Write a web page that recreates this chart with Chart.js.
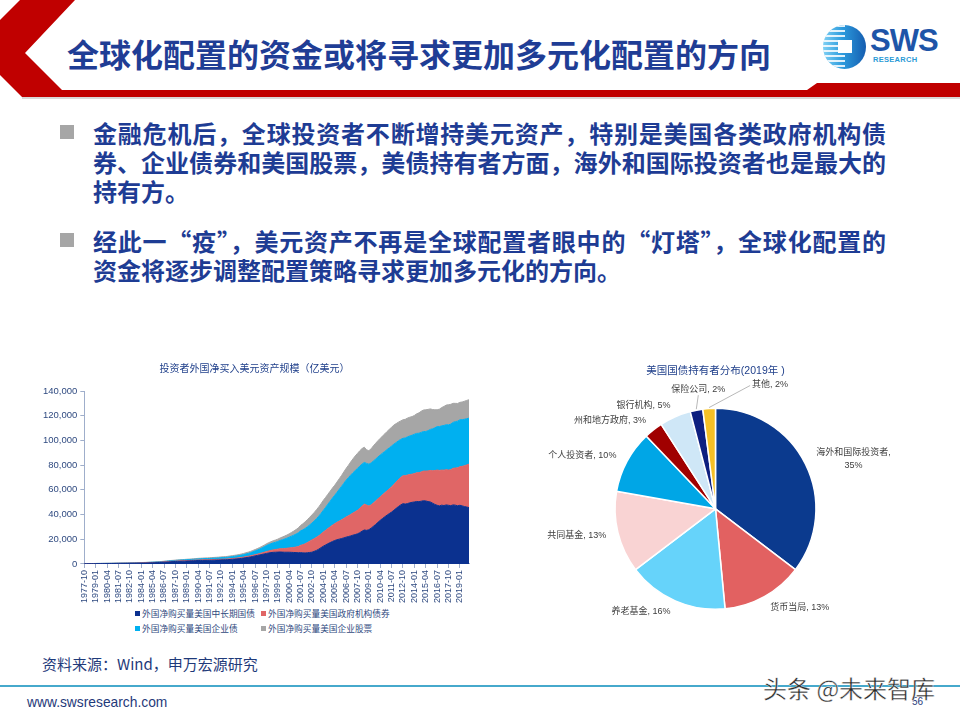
<!DOCTYPE html>
<html>
<head>
<meta charset="utf-8">
<script src="https://cdn.jsdelivr.net/npm/chart.js@4.4.1/dist/chart.umd.min.js"></script>
<style>
  body { margin: 0; width: 960px; height: 720px; position: relative; overflow: hidden; background: #fff;
         font-family: "Noto Sans CJK SC", "Liberation Sans", sans-serif; }
  .abs { position: absolute; }
  #title { left: 67px; top: 33px; font-size: 32px; line-height: 40px; font-weight: bold; color: #1F3D95; white-space: nowrap; }
  .bullet { position: absolute; left: 60px; width: 14px; height: 14px; background: #A6A6A6; }
  .para { position: absolute; left: 93px; width: 793px; color: #1E3C94; font-size: 24px; font-weight: bold; }
  .para div { height: 29px; line-height: 29px; white-space: nowrap; }
  .para .j { text-align: justify; text-align-last: justify; }
  #logo-ring { left: 823px; top: 25px; width: 43px; height: 44px; border-radius: 50%; overflow: hidden;
               background: linear-gradient(90deg, #7FD0F4 0%, #2C9BDD 45%, #155DB0 100%); }
  #logo-ring .stripes { position: absolute; left: 0; top: 0; width: 22px; height: 44px;
               background: repeating-linear-gradient(to bottom, rgba(255,255,255,0.85) 0 2px, transparent 2px 5px); }
  #logo-ring .sq { position: absolute; left: 15px; top: 15px; width: 14px; height: 13px; background: #fff; }
  #sws { left: 870px; top: 24px; font-family: "Liberation Sans", sans-serif; font-weight: bold; font-size: 31px; line-height: 34px; color: #1E55A8; letter-spacing: -1px; }
  #res { left: 873px; top: 55px; font-family: "Liberation Sans", sans-serif; font-weight: bold; font-size: 7.5px; color: #2A9AD6; letter-spacing: 0.3px; }
  #areaBox { left: 30px; top: 355px; width: 450px; height: 250px; }
  #pieBox { left: 520px; top: 355px; width: 420px; height: 285px; }
  #legend { left: 135px; top: 607px; display: grid; grid-template-columns: 126px 130px; row-gap: 2px;
            font-size: 8.7px; color: #2F4A80; white-space: nowrap; }
  #legend span.sw { display: inline-block; width: 5px; height: 5px; margin-right: 2px; vertical-align: 1px; }
  #src { left: 42px; top: 653px; font-size: 15px; color: #1F3A7A; white-space: nowrap; }
  #rule { left: 0; top: 685px; width: 960px; height: 2px; background: #46A9CC; }
  #url { left: 27px; top: 693px; font-family: "Liberation Sans", sans-serif; font-size: 15px; color: #1F3A7A; transform: scaleX(0.92); transform-origin: left; }
  #page { left: 912px; top: 696px; font-family: "Liberation Sans", sans-serif; font-size: 10px; color: #1F3A7A; }
  #wm { left: 763px; top: 670px; font-size: 24px; color: #2a2a2a; white-space: nowrap;
        -webkit-text-stroke: 0.4px #fff; }
</style>
</head>
<body>

<svg class="abs" style="left:0;top:0" width="960" height="102">
  <polygon points="20,0 75,0 25,53 62,90 807,90 817,83 960,83 960,97 22,97 0,75 0,20" fill="#C00000"/>
  <rect x="22" y="97" width="938" height="2" fill="#D9D9D9"/>
</svg>
<div id="title" class="abs">全球化配置的资金或将寻求更加多元化配置的方向</div>
<div id="logo-ring" class="abs"><div class="stripes"></div><div class="sq"></div></div>
<div id="sws" class="abs">SWS</div>
<div id="res" class="abs">RESEARCH</div>

<div class="bullet" style="top:125px"></div>
<div class="para" style="top:118px">
  <div class="j">金融危机后，全球投资者不断增持美元资产，特别是美国各类政府机构债</div>
  <div class="j">券、企业债券和美国股票，美债持有者方面，海外和国际投资者也是最大的</div>
  <div>持有方。</div>
</div>
<div class="bullet" style="top:233px"></div>
<div class="para" style="top:226px">
  <div class="j">经此一“疫”，美元资产不再是全球配置者眼中的“灯塔”，全球化配置的</div>
  <div>资金将逐步调整配置策略寻求更加多元化的方向。</div>
</div>

<div id="areaBox" class="abs"><canvas id="area"></canvas></div>
<div id="legend" class="abs"></div>
<div id="pieBox" class="abs"><canvas id="pie"></canvas></div>

<div id="src" class="abs">资料来源：Wind，申万宏源研究</div>
<div id="rule" class="abs"></div>
<div id="url" class="abs">www.swsresearch.com</div>
<div id="page" class="abs">56</div>
<div id="wm" class="abs">头条 @未来智库</div>

<script>
// quarterly, 1977-10 .. 2020-01 (亿美元)
const startYear = 1977;
const startMonth = 10;

const seriesNames = ['外国净购买量美国中长期国债', '外国净购买量美国政府机构债券', '外国净购买量美国企业债', '外国净购买量美国企业股票'];
const seriesColors = ['#0B318F', '#E06666', '#00B0F0', '#A6A6A6'];

const treasuries = [
  200,210,230,250,260,280,300,310,320,330,
  350,360,380,400,420,450,470,480,500,520,
  550,580,600,640,680,720,760,800,850,900,
  950,1000,1100,1200,1300,1400,1500,1650,1800,1900,
  2000,2100,2150,2250,2300,2400,2450,2550,2600,2700,
  2800,2850,2900,2950,2950,3000,3050,3100,3150,3200,
  3300,3350,3400,3500,3650,3800,3950,4100,4300,4550,
  4800,5100,5400,5700,6100,6500,6900,7300,7700,8100,
  8500,8900,9200,9400,9500,9600,9700,9600,9500,9500,
  9500,9400,9300,9200,9100,9200,9000,8900,9100,9300,
  9500,10200,11000,12000,13200,14400,15400,16400,17300,18200,
  19000,19600,20100,20600,21100,21700,22200,22700,23300,23800,
  24400,25300,26500,27500,27200,27700,29000,30500,32000,33700,
  35300,36800,38200,39500,40800,42000,43500,45000,46500,47800,
  48800,48500,48900,49500,49900,50200,50600,50400,50800,51200,
  51000,50500,50200,49200,48200,47500,47000,47600,47300,47800,
  47500,47200,47800,47600,47100,47500,47000,46500,46100,45600
];

const agencies = [
  50,50,60,60,70,70,80,80,90,90,
  100,100,110,110,120,120,130,130,140,150,
  150,160,170,180,190,200,210,220,230,240,
  250,260,270,280,290,300,310,320,330,340,
  350,360,370,380,390,400,410,420,430,440,
  450,460,470,480,490,500,510,520,530,540,
  550,560,580,600,620,650,680,700,720,750,
  780,820,860,900,950,1000,1050,1150,1250,1350,
  1500,1650,1800,2000,2200,2400,2600,2800,3000,3200,
  3500,3800,4100,4500,5000,5900,6600,7400,8200,9100,
  10000,10300,10600,10800,11100,11400,11800,12300,12700,13200,
  13600,14100,14600,15100,15700,16300,16800,17400,17900,18500,
  19000,19700,20300,20900,20500,19200,18800,18900,19000,19000,
  19000,19200,19400,19700,20000,20400,20900,21300,21800,22200,
  22600,23000,23100,22900,22800,23000,23200,23500,23700,24000,
  24200,24800,25500,26300,27400,28500,28700,28400,28600,28500,
  28500,29100,29600,30100,30700,31200,32000,33000,34100,35200
];

const corporates = [
  20,20,30,30,30,40,40,40,50,50,
  50,60,60,60,70,70,80,80,90,90,
  100,100,110,120,130,140,150,160,180,200,
  220,240,260,280,300,330,360,400,430,460,
  500,520,550,570,600,630,660,700,730,770,
  800,830,860,900,930,960,1000,1040,1080,1120,
  1200,1240,1280,1330,1400,1500,1580,1660,1750,1870,
  2000,2150,2300,2500,2750,3000,3300,3600,4000,4400,
  4900,5200,5400,5700,5900,6200,6700,7200,7700,8200,
  8700,9300,9900,10500,11100,11700,12000,12400,12800,13200,
  13600,14300,15100,15900,16700,17600,18600,19700,20800,21900,
  23000,24300,25700,27100,28500,29800,30800,31800,32600,33300,
  33900,34200,34000,33800,33700,33900,33900,34000,33900,33900,
  33900,33700,33500,33400,33200,33100,32600,32000,31400,30800,
  30300,30500,30900,31200,31500,31800,31900,31900,32000,32000,
  32000,32600,33200,33900,34600,35200,35500,35800,36200,36400,
  36600,36900,37200,37500,37800,38000,37800,37600,37400,37200
];

const equities = [
  20,20,20,20,30,30,30,30,30,40,
  40,40,40,50,50,50,50,60,60,60,
  70,70,80,80,90,90,100,100,110,120,
  130,140,150,160,170,180,200,220,240,260,
  280,300,320,340,360,380,400,420,440,460,
  480,500,520,540,560,580,600,620,640,660,
  680,700,720,740,760,780,800,830,860,900,
  940,980,1020,1060,1100,1140,1180,1220,1280,1340,
  1400,1500,1600,1700,1800,1900,2000,2200,2400,2500,
  2700,3000,3300,3600,4000,4400,4900,5400,5800,6200,
  6600,6900,7200,7500,7800,8100,8100,8000,8100,8100,
  8100,8300,8600,8800,9200,9500,10000,10600,11200,11800,
  12200,12400,12600,12300,11000,10900,11500,12200,12800,13200,
  13500,13800,14200,14600,15000,15200,15400,15300,15100,15000,
  15000,15100,15200,15200,15100,15200,15800,16500,17100,17400,
  17600,17200,16600,15600,14600,13600,14100,14800,15400,15900,
  16300,16000,15400,14800,14300,14100,14300,14600,14800,14900
];

// 美国国债持有者分布(2019年)
const holderNames = ['海外和国际投资者', '货币当局', '养老基金', '共同基金', '个人投资者', '州和地方政府', '银行机构', '保险公司', '其他'];
const holderShares = [35, 13, 16, 13, 10, 3, 5, 2, 2];
const holderColors = ['#0B3A8E', '#E26161', '#66D3FA', '#F9D3D3', '#00A6E6', '#A00000', '#CFE7F7', '#0D1F80', '#F5C026'];

const quarterLabels = [];
{
  let y = startYear, m = startMonth;
  for (let i = 0; i < treasuries.length; i++) {
    quarterLabels.push(y + '-' + String(m).padStart(2, '0'));
    m += 3;
    if (m > 12) { m -= 12; y++; }
  }
}

Chart.defaults.font.family = '"Liberation Sans", "Noto Sans CJK SC", sans-serif';
Chart.defaults.color = '#2F4A80';
Chart.defaults.animation = false;

const axisColor = '#9FAECB';
const allSeries = [treasuries, agencies, corporates, equities];

new Chart(document.getElementById('area'), {
  type: 'line',
  data: {
    labels: quarterLabels,
    datasets: allSeries.map((s, i) => ({
      label: seriesNames[i],
      data: s,
      backgroundColor: seriesColors[i],
      borderColor: seriesColors[i],
      borderWidth: 1,
      pointRadius: 0,
      tension: 0,
      fill: i === 0 ? 'origin' : '-1'
    }))
  },
  options: {
    responsive: true,
    maintainAspectRatio: false,
    layout: { padding: { left: 10, right: 11, top: 0, bottom: 0 } },
    plugins: {
      legend: { display: false },
      tooltip: { enabled: false },
      title: {
        display: true,
        text: '投资者外国净买入美元资产规模（亿美元）',
        color: '#1F3F8A',
        font: { size: 10, weight: 'normal' },
        padding: { top: 8, bottom: 16 }
      }
    },
    scales: {
      x: {
        grid: { drawOnChartArea: false, color: axisColor, tickLength: 4 },
        border: { color: axisColor },
        ticks: {
          autoSkip: false,
          maxRotation: 90,
          minRotation: 90,
          padding: 2,
          font: { size: 9 },
          callback: function (val, idx) {
            return idx % 5 === 0 ? this.getLabelForValue(val) : null;
          }
        }
      },
      y: {
        stacked: true,
        min: 0,
        max: 140000,
        grid: { drawOnChartArea: false, color: axisColor, tickLength: 4 },
        border: { color: axisColor },
        ticks: {
          stepSize: 20000,
          padding: 3,
          font: { size: 9.5 },
          callback: v => v.toLocaleString('en-US')
        }
      }
    }
  }
});

// html legend in a 2x2 grid
const legendEl = document.getElementById('legend');
seriesNames.forEach((name, i) => {
  const item = document.createElement('div');
  item.innerHTML = '<span class="sw" style="background:' + seriesColors[i] + '"></span>' + name;
  legendEl.appendChild(item);
});

// small slices at the top get leader lines
const callouts = {
  7: { dx: 2, dy: -14, align: 'center' },
  8: { dx: 41, dy: -22, align: 'left' }
};

const pieLabels = {
  id: 'pieLabels',
  afterDatasetsDraw(chart) {
    const ctx = chart.ctx;
    const meta = chart.getDatasetMeta(0);
    ctx.save();
    ctx.font = '9px "Liberation Sans", "Noto Sans CJK SC", sans-serif';
    ctx.fillStyle = '#404040';
    ctx.strokeStyle = '#A6A6A6';
    ctx.lineWidth = 0.8;
    ctx.textBaseline = 'middle';
    meta.data.forEach((arc, i) => {
      const p = arc.getProps(['x', 'y', 'startAngle', 'endAngle', 'outerRadius'], true);
      const mid = (p.startAngle + p.endAngle) / 2;
      const cos = Math.cos(mid), sin = Math.sin(mid);
      const text = holderNames[i] + ', ' + holderShares[i] + '%';
      const c = callouts[i];
      if (c) {
        const ex = p.x + cos * (p.outerRadius + 1);
        const ey = p.y + sin * (p.outerRadius + 1);
        const lx = ex + c.dx, ly = ey + c.dy;
        ctx.beginPath();
        ctx.moveTo(ex, ey);
        ctx.lineTo(lx, ly);
        ctx.stroke();
        ctx.textAlign = c.align;
        if (c.align === 'left') ctx.fillText(text, lx + 2, ly - 1);
        else ctx.fillText(text, lx, ly - 6);
        return;
      }
      const r = p.outerRadius + 12;
      const x = p.x + cos * r, y = p.y + sin * r;
      if (i === 0) {
        const l1 = holderNames[i] + ',';
        const w = ctx.measureText(l1).width;
        ctx.textAlign = 'center';
        ctx.fillText(l1, x + w / 2, y - 6);
        ctx.fillText(holderShares[i] + '%', x + w / 2, y + 7);
        return;
      }
      ctx.textAlign = cos >= 0 ? 'left' : 'right';
      ctx.fillText(text, x, y);
    });
    ctx.restore();
  }
};

new Chart(document.getElementById('pie'), {
  type: 'pie',
  data: {
    labels: holderNames,
    datasets: [{
      data: holderShares,
      backgroundColor: holderColors,
      borderColor: '#ffffff',
      borderWidth: 1.5
    }]
  },
  options: {
    responsive: true,
    maintainAspectRatio: false,
    layout: { padding: { left: 94, right: 123, top: 0, bottom: 30 } },
    plugins: {
      legend: { display: false },
      tooltip: { enabled: false },
      title: {
        display: true,
        text: '美国国债持有者分布(2019年 )',
        color: '#1F3F8A',
        font: { size: 10.5, weight: 'normal' },
        padding: { top: 10, bottom: 30 }
      }
    }
  },
  plugins: [pieLabels]
});
</script>
</body>
</html>
